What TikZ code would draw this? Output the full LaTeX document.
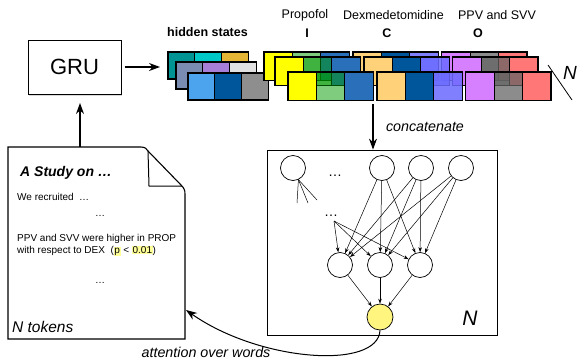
\documentclass[tikz,border=0pt]{standalone}
\usepackage{fontspec}
\setmainfont{Liberation Sans}
\usetikzlibrary{arrows.meta,shadows}

\definecolor{hsteal}{HTML}{009494}
\definecolor{hscyan}{HTML}{00C8C8}
\definecolor{hsgold}{HTML}{E5B535}
\definecolor{hsslate}{HTML}{7A8CB2}
\definecolor{hslav}{HTML}{A77ED8}
\definecolor{hslgray}{HTML}{E1E1E1}
\definecolor{hssky}{HTML}{4CA4EE}
\definecolor{hsnavy}{HTML}{00569B}
\definecolor{hsgrey}{HTML}{8E8E8E}
\definecolor{hsyellow}{HTML}{FFFF00}
\definecolor{hsgreen}{HTML}{009900}
\definecolor{hsblue}{HTML}{2A6FBA}
\definecolor{hspeach}{HTML}{FFD27A}
\definecolor{hsperi}{HTML}{6B6BFF}
\definecolor{hsviolet}{HTML}{D67FFF}
\definecolor{hsdark}{HTML}{646464}
\definecolor{hssalmon}{HTML}{FF7777}
\definecolor{outyellow}{HTML}{FFF57F}
\definecolor{hlyellow}{HTML}{FFFF99}

\newcommand{\hlite}[1]{{\setlength{\fboxsep}{0.6pt}\colorbox{hlyellow}{#1}}}

\tikzset{
  cell/.style={draw, line width=1.1pt},
  neuron/.style={circle, draw, line width=0.7pt, fill=white, minimum size=25pt, inner sep=0pt},
  conn/.style={-{Stealth[length=5pt,width=3.5pt]}, line width=0.5pt},
  flow/.style={-{Stealth[length=11pt,width=8pt]}, line width=1.1pt},
  lab/.style={font=\fontsize{12.5}{14}\selectfont},
  doctext/.style={anchor=west, inner sep=0pt, font=\fontsize{10}{12}\selectfont},
}

\begin{document}
\begin{tikzpicture}[x=1pt, y=-1pt]
  \useasboundingbox (0,0) rectangle (579,362);

  % GRU and document
  \node[draw, line width=1pt, fill=white, drop shadow={opacity=0.3, shadow xshift=1pt, shadow yshift=-2pt},
        minimum width=93pt, minimum height=54pt, font=\fontsize{22}{24}\selectfont] (gru) at (74.5,67) {GRU};

  \draw[line width=1.1pt, fill=white] (8,147) -- (141,147) .. controls (145,147) and (147,149) .. (148,151)
        -- (181,185) .. controls (184,188) and (185,190) .. (185,194) -- (185,339) -- (8,339) -- cycle;
  \draw[line width=1pt] (148,151) -- (149,186) -- (182,186);
  \coordinate (docup) at (80,147);
  \coordinate (gruin) at (80,103);
  \coordinate (docin) at (186,310);

  \node[anchor=west, inner sep=0pt, font=\fontsize{14}{16}\selectfont\bfseries\itshape] (title) at (20,173) {A Study on …};
  \node[doctext] (line1) at (17,197) {We recruited \ …};
  \node[doctext] (dots1) at (95,216) {…};
  \node[doctext] (line2) at (17,239) {PPV and SVV were higher in PROP};
  \node[doctext] (line3) at (17,251) {with respect to DEX\ \ (\hlite{p} < \hlite{0.01})};
  \node[doctext] (dots2) at (95,283) {…};
  \node[anchor=west, inner sep=0pt, font=\fontsize{15.5}{17}\selectfont\itshape] (ntok) at (12,327) {N tokens};

  \draw[flow] (docup) -- (gruin);

  % hidden states
  \foreach \lx/\ly/\ca/\cb/\cc in {168/52/hsteal/hscyan/hsgold, 176/62/hsslate/hslav/hslgray, 188/73/hssky/hsnavy/hsgrey} {
    \draw[cell, fill=\ca] (\lx,\ly) rectangle ++(26.7,27);
    \draw[cell, fill=\cb] (\lx+26.7,\ly) rectangle ++(26.7,27);
    \draw[cell, fill=\cc] (\lx+53.4,\ly) rectangle ++(26.7,27);
  }
  \foreach \lx/\ly in {264/52, 275/57, 288/72} {
    \foreach \gx/\c/\o in {0/hsyellow/1, 28.4/hsgreen/.5, 56.8/hsblue/1,
                           89/hspeach/1, 117.4/hsnavy/1, 145.8/hsperi/.86,
                           177.8/hsviolet/1, 206.2/hsdark/.74, 234.6/hssalmon/1}
      \draw[cell, fill=\c, fill opacity=\o] (\lx+\gx,\ly) rectangle ++(28.4,28.5);
  }
  \coordinate (hsin) at (160,67);
  \coordinate (hsout) at (373,104);

  \node[lab, font=\fontsize{12.5}{14}\selectfont\bfseries] (lhid) at (207.5,32) {hidden states};
  \node[lab] (lprop) at (305,15) {Propofol};
  \node[lab] (ldex) at (393.5,15) {Dexmedetomidine};
  \node[lab] (lppv) at (497,15) {PPV and SVV};
  \node[lab, font=\fontsize{12.5}{14}\selectfont\bfseries] (li) at (307,33) {I};
  \node[lab, font=\fontsize{12.5}{14}\selectfont\bfseries] (lc) at (387,33) {C};
  \node[lab, font=\fontsize{12.5}{14}\selectfont\bfseries] (lo) at (478,33) {O};
  \node[font=\fontsize{19}{20}\selectfont\itshape] (nrep) at (570,73) {N};
  \draw[line width=0.8pt] (548,65) -- (572,100);

  \draw[flow, shorten <=3pt] (gru) -- (hsin);

  % attention network
  \node[draw, line width=0.8pt, minimum width=230pt, minimum height=185pt] (net) at (382,242.5) {};
  \node[font=\fontsize{21}{22}\selectfont\itshape] (nnet) at (470,318) {N};
  \draw[flow] (hsout) -- (net.north -| hsout);
  \node[font=\fontsize{14.3}{16}\selectfont\itshape] (lcat) at (425,127) {concatenate};

  \node[neuron] (t0) at (293,168) {};
  \node[neuron] (t1) at (382,168) {};
  \node[neuron] (t2) at (421,168) {};
  \node[neuron] (t3) at (461,168) {};
  \node[neuron] (m1) at (340,265) {};
  \node[neuron] (m2) at (380,265) {};
  \node[neuron] (m3) at (420,265) {};
  \node[neuron, fill=outyellow, minimum size=26pt] (out) at (380,317) {};
  \node[font=\fontsize{14}{14}\selectfont] (dtop) at (335,176) {…};
  \node[font=\fontsize{14}{14}\selectfont] (dmid) at (331,216) {…};

  \coordinate (s1) at (297,203);
  \coordinate (s2) at (308,203);
  \coordinate (s3) at (317,200);
  \coordinate (dsrc) at (334,221);
  \foreach \s in {s1,s2,s3}
    \draw[line width=0.5pt] (t0.-65) -- (\s);

  \foreach \a in {t1,t2,t3}
    \foreach \b in {m1,m2,m3}
      \draw[conn] (\a) -- (\b);
  \foreach \b in {m1,m2,m3} {
    \draw[conn] (dsrc) -- (\b);
    \draw[conn] (\b) -- (out);
  }

  \draw[flow, line width=1pt] (out.south) .. controls (378,370) and (260,362) .. (docin);
  \node[font=\fontsize{14.3}{16}\selectfont\itshape] (latt) at (206,352) {attention over words};
\end{tikzpicture}
\end{document}
